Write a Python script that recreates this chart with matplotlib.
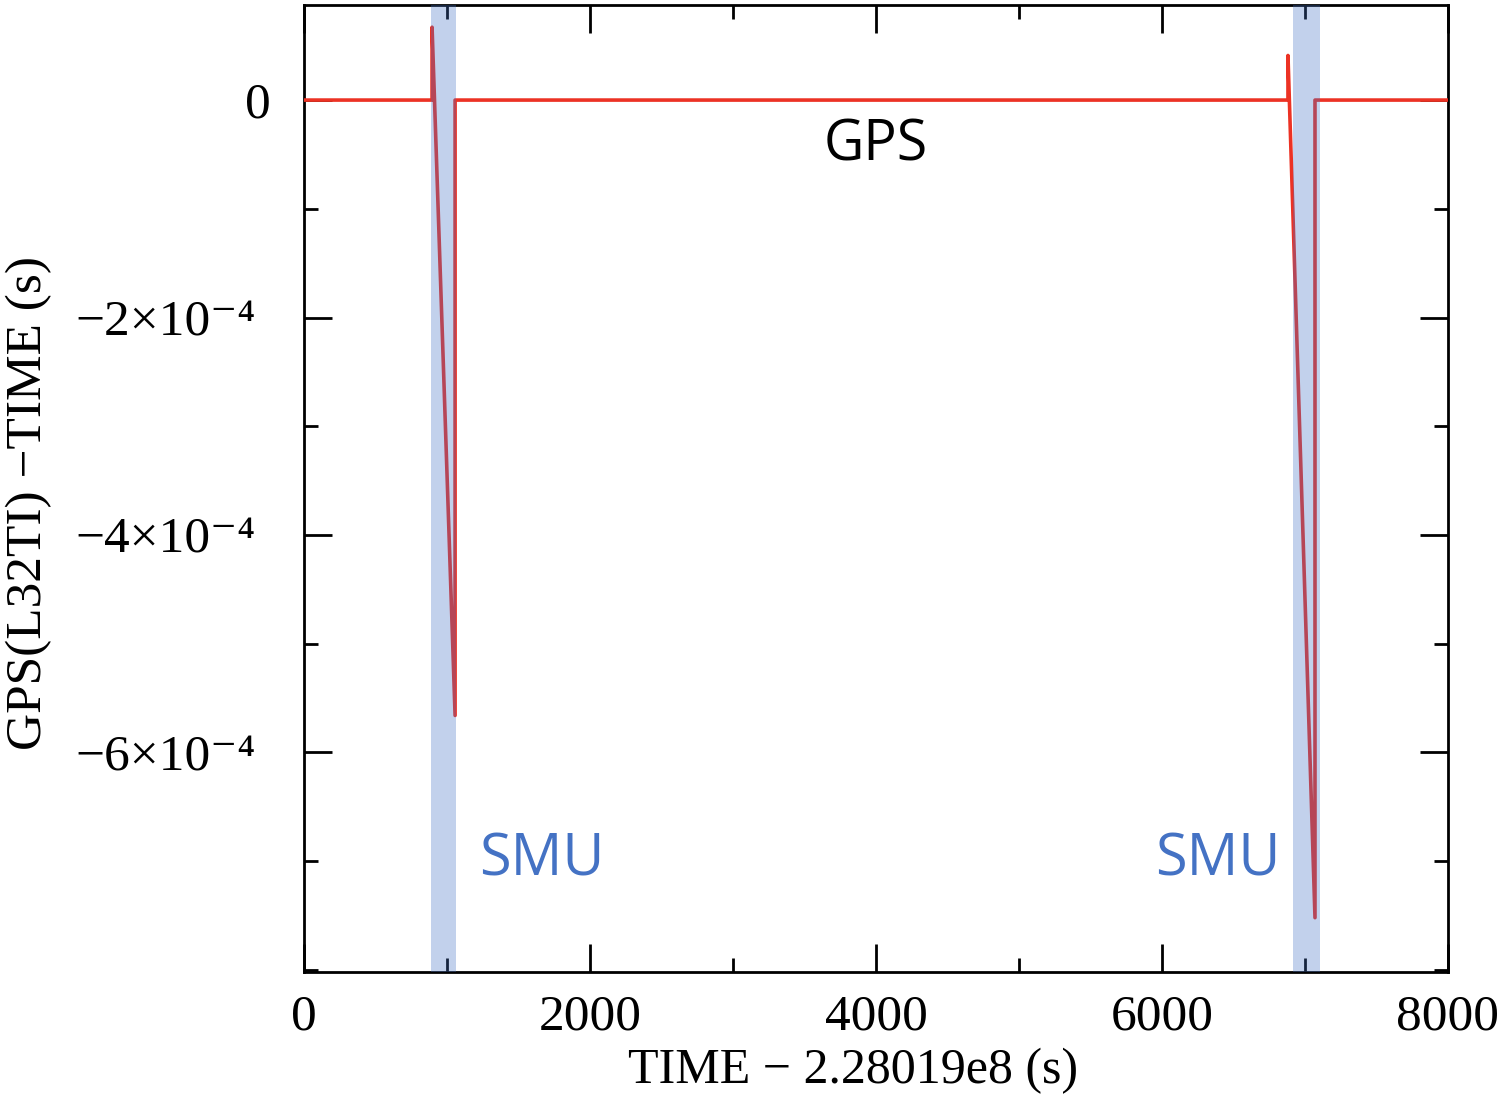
import numpy as np
import matplotlib.pyplot as plt
import matplotlib.transforms as mtransforms
from matplotlib.ticker import MultipleLocator

# GPS(L32TI) - TIME trace
time_s = [0, 895, 895, 1056, 1056, 6881, 6881, 7070, 7070, 8000]
offset_s = [0, 0, 0.67e-4, -5.66e-4, 0, 0, 0.41e-4, -7.52e-4, 0, 0]

# SMU intervals (shaded)
smu_start = [888, 6916]
smu_end = [1063, 7105]

ytick_vals = [0, -2e-4, -4e-4, -6e-4]
ytick_labels = ["0", "−2×10⁻⁴", "−4×10⁻⁴", "−6×10⁻⁴"]
xtick_vals = [0, 2000, 4000, 6000, 8000]

plt.rcParams['font.family'] = ['Liberation Serif', 'DejaVu Serif']

fig = plt.figure(figsize=(14.98, 10.96), dpi=100)
ax = fig.add_axes([0.203, 0.1131, 0.7636, 0.8823])

ax.plot(time_s, offset_s, color='#ec3224', lw=2.6, zorder=3)

# translucent bands drawn over everything (they tint the ticks too)
for s, e in zip(smu_start, smu_end):
    ax.axvspan(s, e, color='#4472c4', alpha=0.32, lw=0, zorder=4)

ax.set_xlim(0, 8000)
ax.set_ylim(-8.02e-4, 0.874e-4)
ax.set_xticks(xtick_vals)
ax.set_xticklabels([str(v) for v in xtick_vals])
ax.xaxis.set_minor_locator(MultipleLocator(1000))
ax.set_yticks(ytick_vals)
ax.set_yticklabels(ytick_labels)
ax.yaxis.set_minor_locator(MultipleLocator(1e-4))

ax.tick_params(which='both', direction='in', top=True, right=True, width=2, colors='black')
ax.tick_params(which='major', length=20, labelsize=37)
ax.tick_params(which='minor', length=10)
ax.tick_params(axis='x', pad=16)
ax.tick_params(axis='y', pad=35)
for sp in ax.spines.values():
    sp.set_linewidth(2)

# the plain "0" sits closer to the axis than the power labels
lbl0 = ax.get_yticklabels()[0]
lbl0.set_transform(lbl0.get_transform() + mtransforms.ScaledTranslation(15 / 100, 0, fig.dpi_scale_trans))

ax.set_xlabel("TIME − 2.28019e8 (s)", fontsize=36)
ax.xaxis.set_label_coords(0.480, -0.078)
ax.set_ylabel("GPS(L32TI) −TIME (s)", fontsize=37)
ax.yaxis.set_label_coords(-0.2206, 0.485)

ax.text(4000, -0.42e-4, "GPS", fontsize=40, family='Open Sans', ha='center', va='center', color='black')
ax.text(1664, -6.99e-4, "SMU", fontsize=41.5, family='Open Sans', ha='center', va='center', color='#4472c4')
ax.text(6392, -6.99e-4, "SMU", fontsize=41.5, family='Open Sans', ha='center', va='center', color='#4472c4')

fig.savefig("out.png", dpi=100)
